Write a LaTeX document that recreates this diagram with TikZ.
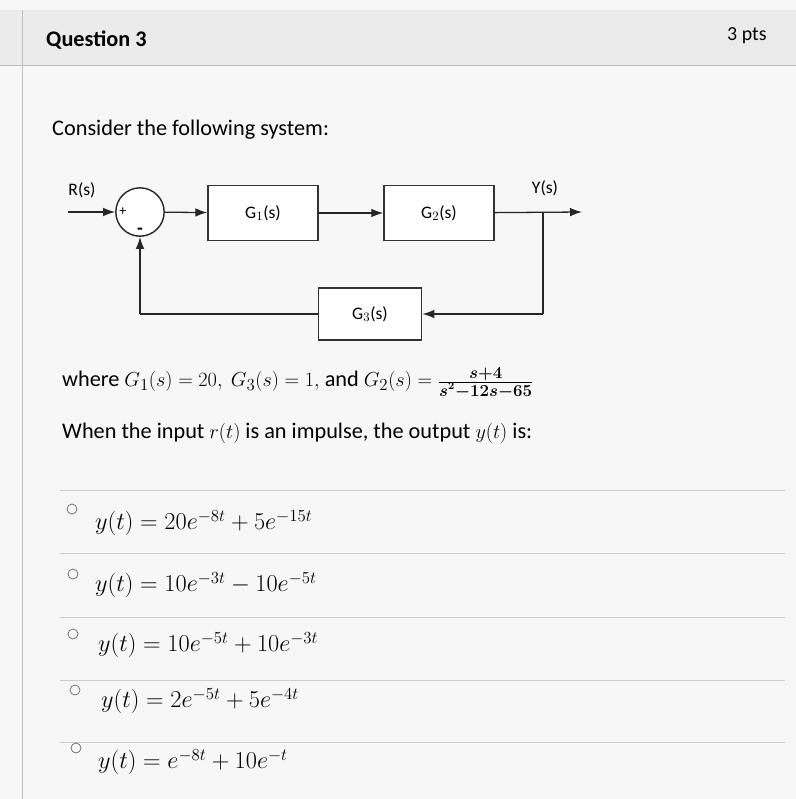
\documentclass[tikz,border=0pt]{standalone}
\usepackage{fontspec}
\setmainfont{Carlito}
\usepackage{amsmath}
\usetikzlibrary{arrows.meta}
\begin{document}
\begin{tikzpicture}[x=0.03cm,y=-0.03cm,
  blk/.style={draw=black!80,line width=1.2pt,minimum width=3.3cm,minimum height=1.65cm,fill=white,font=\fontsize{15}{18}\selectfont},
  sig/.style={-{Latex[length=3.6mm,width=2.6mm]},line width=1.1pt,black!85},
  lin/.style={line width=1.1pt,black!85},
  txt/.style={anchor=west,inner sep=0pt,font=\fontsize{19}{23}\selectfont},
  opt/.style={anchor=west,inner sep=0pt,font=\fontsize{20}{24}\selectfont},
  radio/.style={draw=black!60,circle,minimum size=0.3cm,inner sep=0pt,line width=0.6pt},
  sep/.style={draw=black!20,line width=0.8pt}]
\useasboundingbox[fill=black!3] (0,0) rectangle (796,799);
\fill[black!8] (0,10) rectangle (796,65);
\draw[black!25,line width=0.8pt] (0,65) -- (796,65);
\draw[black!25] (22,10) -- (22,799);
\node[txt,font=\fontsize{19}{23}\selectfont\bfseries] (q) at (46,40) {Question 3};
\node[txt,font=\fontsize{17}{21}\selectfont] (pts) at (727,36) {3 pts};
\node[txt] (cons) at (52,130) {Consider the following system:};
% diagram
\node[font=\fontsize{15}{18}\selectfont] (R) at (82,190) {R(s)};
\coordinate (rin) at (68,212);
\node[draw=black!85,circle,line width=1.2pt,minimum size=1.45cm,fill=white] (sum) at (140,212) {};
\node[font=\fontsize{12}{14}\selectfont] (plus) at (123,212) {+};
\node[font=\fontsize{16}{16}\selectfont\bfseries] (minus) at (140,231) {-};
\node[blk] (g1) at (263,213) {G$_1$(s)};
\node[blk] (g2) at (439,213) {G$_2$(s)};
\node[blk,minimum width=3.1cm,minimum height=1.55cm] (g3) at (370,314) {G$_3$(s)};
\node[font=\fontsize{15}{18}\selectfont] (Y) at (545,188) {Y(s)};
\coordinate (pick) at (543,212);
\coordinate (yout) at (582,212);
\coordinate (c1) at (543,314);
\coordinate (c2) at (140,314);
\draw[sig] (rin) -- (sum);
\draw[sig] (sum) -- (g1);
\draw[sig] (g1) -- (g2);
\draw[sig] (g2) -- (yout);
\draw[lin] (pick) -- (c1);
\draw[sig] (c1) -- (g3);
\draw[lin] (g3) -- (c2);
\draw[sig] (c2) -- (sum);
% text
\node[txt] (where) at (62,383) {where $G_1(s)=20,\ G_3(s)=1,$ and $G_2(s)=\frac{\boldsymbol{s+4}}{\boldsymbol{s^2-12s-65}}$};
\node[txt] (when) at (62,433) {When the input $r(t)$ is an impulse, the output $y(t)$ is:};
\foreach \y/\n in {490/a,553/b,617/c,680/d,742/e} \draw[sep] (60,\y) -- (785,\y);
\node[radio] (r1) at (72,509) {};
\node[radio] (r2) at (73,574) {};
\node[radio] (r3) at (73,634) {};
\node[radio] (r4) at (75,690) {};
\node[radio] (r5) at (76,748) {};
\node[opt] (o1) at (95,523) {$y(t)=20e^{-8t}+5e^{-15t}$};
\node[opt] (o2) at (95,585) {$y(t)=10e^{-3t}-10e^{-5t}$};
\node[opt] (o3) at (98,645) {$y(t)=10e^{-5t}+10e^{-3t}$};
\node[opt] (o4) at (101,701) {$y(t)=2e^{-5t}+5e^{-4t}$};
\node[opt] (o5) at (98,762) {$y(t)=e^{-8t}+10e^{-t}$};
\end{tikzpicture}
\end{document}
